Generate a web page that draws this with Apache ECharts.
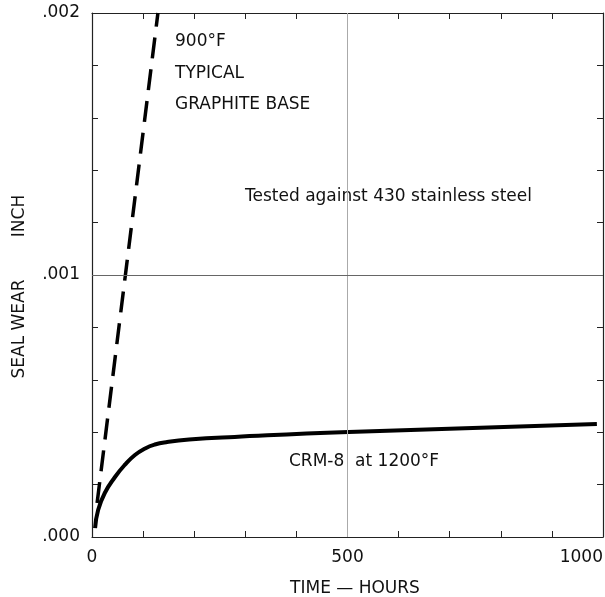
<!DOCTYPE html>
<html lang="en">
<head>
  <meta charset="UTF-8">
  <title>Seal wear</title>
  <style>
    html, body { margin: 0; padding: 0; background: #fff; }
    #main { width: 605px; height: 597px; }
  </style>
</head>
<body>
  <div id="main"></div>
  <script src="https://cdn.jsdelivr.net/npm/echarts@6/dist/echarts.min.js"></script>
  <script>
    // CRM-8 at 1200F, hours vs wear (inch)
    var crmHours = [6, 12, 25, 45, 64, 84, 104, 123, 145, 190, 279, 502, 988];
    var crmWear = [0.000034, 0.000103, 0.000168, 0.000229, 0.000275, 0.000313, 0.000338,
      0.000353, 0.000362, 0.000372, 0.000382, 0.000401, 0.000431];
    // typical graphite base at 900F
    var graphiteHours = [10, 129];
    var graphiteWear = [0.00013, 0.002];

    var xLabels = [0, 500, 1000];
    var yLabels = ['.000', '.001', '.002'];

    var font = 'DejaVu Sans';

    function pairs(xs, ys) {
      var out = [];
      for (var i = 0; i < xs.length; i++) out.push([xs[i], ys[i]]);
      return out;
    }

    function label(text, x, y, extra) {
      var st = { text: text, fill: '#111', font: '17px ' + font, verticalAlign: 'middle' };
      for (var k in extra) st[k] = extra[k];
      return { type: 'text', x: x, y: y, style: st };
    }

    var myChart = echarts.init(document.getElementById('main'));

    var tickStyle = { show: true, inside: true, length: 6, lineStyle: { color: '#222', width: 1 } };
    var lineStyle = { show: true, onZero: false, lineStyle: { color: '#222', width: 1.2 } };

    var option = {
      animation: false,
      backgroundColor: '#fff',
      grid: { left: 92, right: 2, top: 13, bottom: 60, outerBoundsMode: 'none' },
      xAxis: [{
        type: 'value', min: 0, max: 1000, interval: 100,
        axisLine: lineStyle, axisTick: tickStyle, splitLine: { show: false },
        axisLabel: {
          margin: 12, color: '#111', fontFamily: font, fontSize: 17, alignMaxLabel: 'right',
          formatter: function (v) { return xLabels.indexOf(v) >= 0 ? String(v) : ''; }
        }
      }, {
        type: 'value', position: 'top', min: 0, max: 1000, interval: 100,
        axisLine: lineStyle, axisTick: tickStyle, axisLabel: { show: false }, splitLine: { show: false }
      }],
      yAxis: [{
        type: 'value', min: 0, max: 0.002, interval: 0.0002,
        axisLine: lineStyle, axisTick: tickStyle, splitLine: { show: false },
        axisLabel: {
          margin: 12, color: '#111', fontFamily: font, fontSize: 17,
          formatter: function (v) {
            var k = Math.round(v * 10000);
            return k % 10 === 0 ? yLabels[k / 10] : '';
          }
        }
      }, {
        type: 'value', position: 'right', min: 0, max: 0.002, interval: 0.0002,
        axisLine: lineStyle, axisTick: tickStyle, axisLabel: { show: false }, splitLine: { show: false }
      }],
      graphic: [
        { type: 'text', x: 20, y: 329, rotation: Math.PI / 2,
          style: { text: 'SEAL WEAR', fill: '#111', font: '17px ' + font, align: 'center', verticalAlign: 'middle' } },
        { type: 'text', x: 20, y: 216, rotation: Math.PI / 2,
          style: { text: 'INCH', fill: '#111', font: '17px ' + font, align: 'center', verticalAlign: 'middle' } },
        label('TIME — HOURS', 355, 589, { align: 'center' }),
        label('900°F', 175, 42),
        label('TYPICAL', 175, 74),
        label('GRAPHITE BASE', 175, 105),
        label('Tested against 430 stainless steel', 245, 197),
        label('CRM-8  at 1200°F', 289, 462)
      ],
      series: [{
        name: 'CRM-8 at 1200°F',
        type: 'line',
        smooth: 0.5,
        symbol: 'none',
        data: pairs(crmHours, crmWear),
        lineStyle: { color: '#000', width: 4 },
        markLine: {
          silent: true, symbol: 'none', label: { show: false },
          data: [{ xAxis: 500 }],
          lineStyle: { color: '#aaa', width: 1, type: 'solid' }
        }
      }, {
        name: 'Typical graphite base 900°F',
        type: 'line',
        symbol: 'none',
        data: pairs(graphiteHours, graphiteWear),
        lineStyle: { color: '#000', width: 3.5, type: [21, 11] },
        markLine: {
          silent: true, symbol: 'none', label: { show: false }, precision: 6,
          data: [{ yAxis: 0.001 }],
          lineStyle: { color: '#666', width: 1, type: 'solid' }
        }
      }]
    };

    myChart.setOption(option);
  </script>
</body>
</html>
